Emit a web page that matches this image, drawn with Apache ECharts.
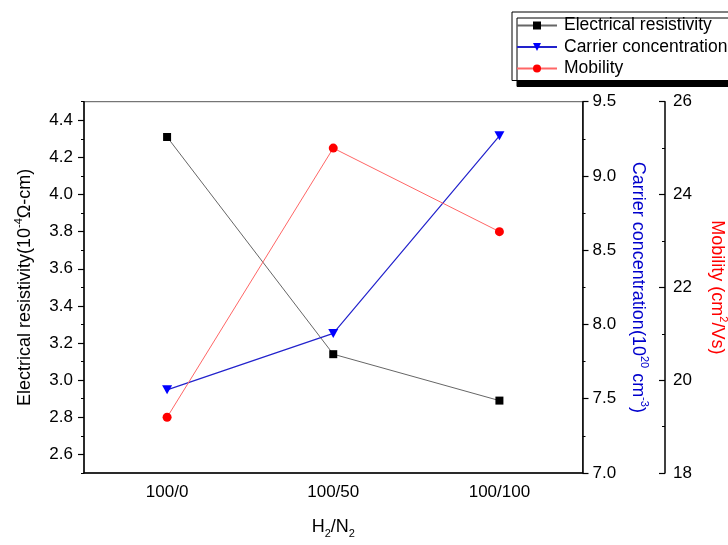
<!DOCTYPE html>
<html>
<head>
<meta charset="utf-8">
<script src="https://cdn.jsdelivr.net/npm/echarts@6/dist/echarts.min.js"></script>
<style>
  html, body { margin: 0; padding: 0; background: #fff; }
  #chart { width: 728px; height: 545px; }
</style>
</head>
<body>
<div id="chart"></div>
<script>
// data
var categories = ['100/0', '100/50', '100/100'];
var resistivity = [4.31, 3.14, 2.89];
var carrier = [7.56, 7.94, 9.27];
var mobility = [19.2, 25.0, 23.2];

var resLabels = [2.6, 2.8, 3.0, 3.2, 3.4, 3.6, 3.8, 4.0, 4.2, 4.4];
var resMinor = [2.5, 2.7, 2.9, 3.1, 3.3, 3.5, 3.7, 3.9, 4.1, 4.3, 4.5];
var mobMinor = [19, 21, 23, 25];

var font = "'Liberation Sans', Arial, sans-serif";

var chart = echarts.init(document.getElementById('chart'));

var supRich = function (color) {
    return {
        n: { fontSize: 18, fontFamily: font, color: color, lineHeight: 24 },
        sup: { fontSize: 11, fontFamily: font, color: color, lineHeight: 14, verticalAlign: 'top' },
        sub: { fontSize: 11, fontFamily: font, color: color, lineHeight: 14, verticalAlign: 'bottom' }
    };
};

var option = {
    animation: false,
    backgroundColor: '#fff',
    grid: {
        left: 84, right: 145.5, top: 101.7, bottom: 72,
        outerBoundsMode: 'none',
        containLabel: false,
        show: true, borderColor: '#555', borderWidth: 1
    },
    legend: {
        orient: 'vertical',
        left: 512, top: 12,
        padding: [4.5, 120, 3, 4],
        itemGap: 3.5,
        itemWidth: 40, itemHeight: 10,
        backgroundColor: '#fff',
        borderColor: '#000', borderWidth: 1,
        shadowColor: '#000', shadowOffsetX: 5, shadowOffsetY: 6, shadowBlur: 0,
        textStyle: { fontSize: 17.5, fontFamily: font, color: '#000', lineHeight: 17, padding: [0, 0, 0, 2] },
        data: ['Electrical resistivity', 'Carrier concentration', 'Mobility']
    },
    xAxis: {
        type: 'category',
        data: categories,
        boundaryGap: true,
        axisLine: { lineStyle: { color: '#000', width: 1.5 } },
        axisTick: { alignWithLabel: true, length: 6, lineStyle: { color: '#000', width: 1.2 } },
        axisLabel: { fontSize: 17, fontFamily: font, color: '#000', margin: 11 },
        name: '{n|H}{sub|2}{n|/N}{sub|2}',
        nameLocation: 'middle',
        nameGap: 42,
        nameTextStyle: { rich: supRich('#000') }
    },
    yAxis: [
        {
            type: 'value', position: 'left',
            min: 2.5, max: 4.5,
            splitLine: { show: false },
            axisLine: { show: true, lineStyle: { color: '#000', width: 1.5 } },
            axisTick: { show: true, length: 6, customValues: resLabels, lineStyle: { color: '#000', width: 1.2 } },
            axisLabel: {
                fontSize: 17, fontFamily: font, color: '#000', margin: 11,
                customValues: resLabels,
                formatter: function (v) { return v.toFixed(1); }
            },
            name: '{n|Electrical resistivity(10}{sup|-4}{n|\u03A9-cm)}',
            nameLocation: 'middle', nameRotate: 90, nameGap: 47,
            nameTextStyle: { rich: supRich('#000') }
        },
        {
            type: 'value', position: 'right',
            min: 7.0, max: 9.5, interval: 0.5,
            splitLine: { show: false },
            axisLine: { show: true, lineStyle: { color: '#000', width: 1.5 } },
            axisTick: { show: true, length: 6, lineStyle: { color: '#000', width: 1.2 } },
            minorTick: { show: true, splitNumber: 2, length: 3, lineStyle: { color: '#000', width: 1 } },
            axisLabel: {
                fontSize: 17, fontFamily: font, color: '#000', margin: 10,
                formatter: function (v) { return v.toFixed(1); }
            },
            name: '{n|Carrier concentration(10}{sup|20}{n| cm}{sup|-3}{n|)}',
            nameLocation: 'middle', nameRotate: -90, nameGap: 43,
            nameTextStyle: { rich: supRich('#0000cc') }
        },
        {
            type: 'value', position: 'right', offset: 82.5,
            min: 18, max: 26, interval: 2,
            splitLine: { show: false },
            axisLine: { show: true, lineStyle: { color: '#000', width: 1.5 } },
            axisTick: { show: true, inside: true, length: 6, lineStyle: { color: '#000', width: 1.2 } },
            axisLabel: { fontSize: 17, fontFamily: font, color: '#000', margin: 8 },
            name: '{n|Mobility (cm}{sup|2}{n|/Vs)}',
            nameLocation: 'middle', nameRotate: -90, nameGap: 40,
            nameTextStyle: { rich: supRich('#ff0000') }
        },
        {
            // minor ticks of the resistivity axis
            type: 'value', position: 'left',
            min: 2.5, max: 4.5,
            splitLine: { show: false },
            axisLine: { show: false },
            axisLabel: { show: false },
            axisTick: { show: true, length: 3, customValues: resMinor, lineStyle: { color: '#000', width: 1 } }
        },
        {
            // minor ticks of the mobility axis, pointing inward
            type: 'value', position: 'right', offset: 82.5,
            min: 18, max: 26,
            splitLine: { show: false },
            axisLine: { show: false },
            axisLabel: { show: false },
            axisTick: { show: true, inside: true, length: 3, customValues: mobMinor, lineStyle: { color: '#000', width: 1 } }
        }
    ],
    series: [
        {
            name: 'Electrical resistivity', type: 'line', yAxisIndex: 0,
            data: resistivity,
            symbol: 'rect', symbolSize: 8,
            itemStyle: { color: '#000' },
            lineStyle: { color: '#666', width: 1 }
        },
        {
            name: 'Carrier concentration', type: 'line', yAxisIndex: 1,
            data: carrier,
            symbol: 'triangle', symbolSize: [10, 9], symbolRotate: 180,
            itemStyle: { color: '#0000ff' },
            lineStyle: { color: '#2222cc', width: 1.2 }
        },
        {
            name: 'Mobility', type: 'line', yAxisIndex: 2,
            data: mobility,
            symbol: 'circle', symbolSize: 9,
            itemStyle: { color: '#ff0000' },
            lineStyle: { color: '#ff6666', width: 1 }
        }
    ]
};

chart.setOption(option);
</script>
</body>
</html>
